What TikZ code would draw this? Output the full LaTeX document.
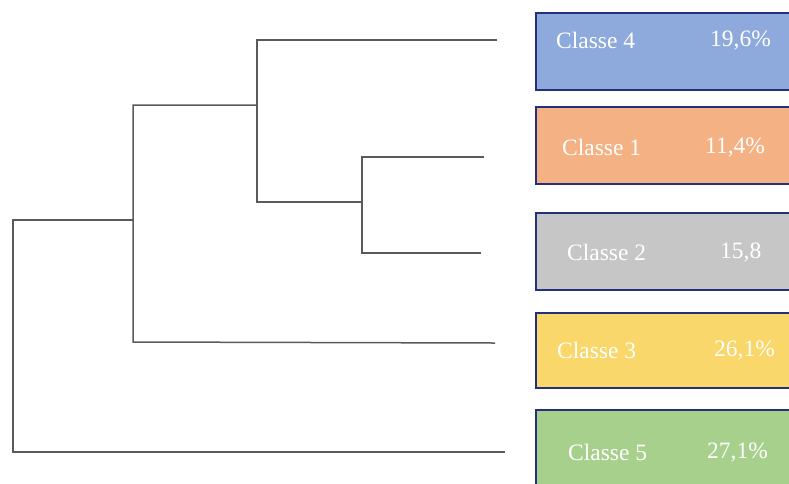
\documentclass[tikz,border=0pt]{standalone}
\usepackage{fontspec}
\setmainfont{Liberation Serif}
\definecolor{cblue}{HTML}{8EA9DB}
\definecolor{corange}{HTML}{F4B183}
\definecolor{cgray}{HTML}{C6C6C6}
\definecolor{cyellow}{HTML}{F9D76A}
\definecolor{cgreen}{HTML}{A8D08D}
\definecolor{cborder}{HTML}{23307A}
\definecolor{cline}{HTML}{5A5A5A}
\tikzset{
  classbox/.style={draw=cborder, line width=2pt, minimum width=280pt, anchor=north west, inner sep=0pt},
  lbl/.style={text=white, draw=white, line width=0.25pt, font=\fontsize{23.5}{26}\selectfont, anchor=west, inner sep=0pt, draw=none},
  branch/.style={draw=cline, line width=1.5pt}
}
\begin{document}
\begin{tikzpicture}[x=1pt,y=-1pt]
\useasboundingbox (0,0) rectangle (789,483);
\clip (0,0) rectangle (789,483);
% boxes
\node[classbox, fill=cblue, minimum height=77pt] (b4) at (535,12) {};
\node[classbox, fill=corange, minimum height=77pt] (b1) at (535,106) {};
\node[classbox, fill=cgray, minimum height=77pt] (b2) at (535,212) {};
\node[classbox, fill=cyellow, minimum height=75pt] (b3) at (535,312) {};
\node[classbox, fill=cgreen, minimum height=80pt] (b5) at (535,409) {};
% labels
\node[lbl] (t4) at (556,40) {Classe 4};
\node[lbl] (p4) at (710,40) {19,6\%};
\node[lbl] (t1) at (562,147) {Classe 1};
\node[lbl] (p1) at (705,147) {11,4\%};
\node[lbl] (t2) at (567,252) {Classe 2};
\node[lbl] (p2) at (720,252) {15,8};
\node[lbl] (t3) at (557,350) {Classe 3};
\node[lbl] (p3) at (714,350) {26,1\%};
\node[lbl] (t5) at (568,452) {Classe 5};
\node[lbl] (p5) at (707,452) {27,1\%};
% dendrogram coordinates
\coordinate (l4) at (497,40);
\coordinate (l1) at (484,157);
\coordinate (l2) at (481,253);
\coordinate (l3) at (495,343);
\coordinate (l5) at (505,452);
\coordinate (a4) at (257,40);
\coordinate (a12) at (257,202);
\coordinate (b1t) at (362,157);
\coordinate (b2b) at (362,253);
\coordinate (bm) at (362,202);
\coordinate (cA) at (133,105);
\coordinate (aM) at (257,105);
\coordinate (c3) at (133,342);
\coordinate (dC) at (13,220);
\coordinate (cM) at (133,220);
\coordinate (d5) at (13,452);
% dendrogram
\draw[branch] (l4) -- (a4) -- (a12) -- (bm);
\draw[branch] (l1) -- (b1t) -- (b2b) -- (l2);
\draw[branch] (aM) -- (cA) -- (c3) -- (l3);
\draw[branch] (cM) -- (dC) -- (d5) -- (l5);
\end{tikzpicture}
\end{document}
